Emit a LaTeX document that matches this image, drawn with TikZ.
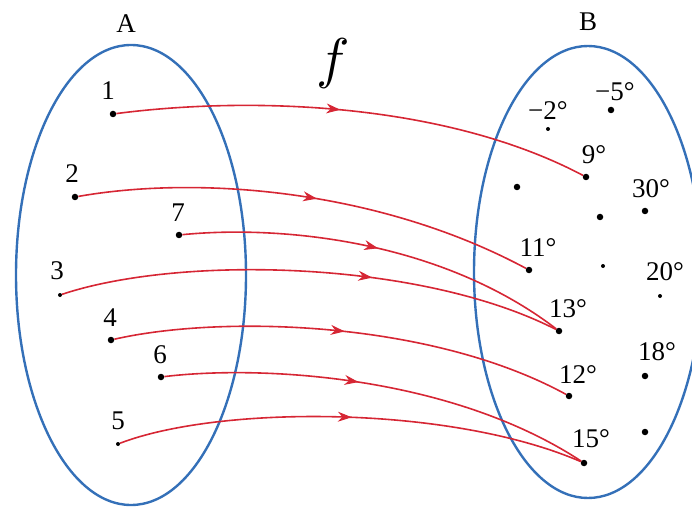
\documentclass[tikz,border=0pt]{standalone}
\usepackage{fontspec}
\setmainfont{Liberation Serif}
\usetikzlibrary{shapes.geometric,decorations.markings,arrows.meta}
\definecolor{setblue}{RGB}{52,112,184}
\definecolor{arrred}{RGB}{214,38,52}
\begin{document}
\begin{tikzpicture}[x=1pt,y=-1pt,
  setshape/.style={ellipse,draw=setblue,line width=2.4pt,inner sep=0pt},
  bigdot/.style={circle,fill=black,inner sep=0pt,minimum size=6.5pt},
  smalldot/.style={circle,fill=black,inner sep=0pt,minimum size=4pt},
  lbl/.style={inner sep=0pt,font=\fontsize{27}{30}\selectfont},
  maparrow/.style={draw=arrred,line width=1.6pt,
    postaction={decorate},
    decoration={markings,mark=at position #1 with {\arrow[arrred,line width=1pt]{Stealth[length=14pt,width=10pt]}}}},
  maparrow/.default=0.5]
\useasboundingbox (0,0) rectangle (692,510);
% sets
\node[setshape,minimum width=230pt,minimum height=460pt] (setA) at (131,275) {};
\node[setshape,minimum width=228pt,minimum height=452pt] (setB) at (588,272) {};
\node[lbl] (labA) at (126,24) {A};
\node[lbl] (labB) at (588,22) {B};
\node[inner sep=0pt,scale=5.6] (fname) at (333,64) {$f$};
% domain points
\node[bigdot] (a1) at (113,114) {};
\node[bigdot] (a2) at (75,197) {};
\node[bigdot] (a7) at (179,235) {};
\node[smalldot] (a3) at (60,295) {};
\node[bigdot] (a4) at (111,340) {};
\node[bigdot] (a6) at (161,377) {};
\node[smalldot] (a5) at (118,444) {};
\node[lbl] (l1) at (108,91) {1};
\node[lbl] (l2) at (72,174) {2};
\node[lbl] (l7) at (178,213) {7};
\node[lbl] (l3) at (57,271) {3};
\node[lbl] (l4) at (110,318) {4};
\node[lbl] (l6) at (160,355) {6};
\node[lbl] (l5) at (118,421) {5};
% codomain points
\node[smalldot] (bm2) at (548,129) {};
\node[bigdot] (bm5) at (611,110) {};
\node[bigdot] (b9) at (586,177) {};
\node[bigdot] (bx1) at (517,187) {};
\node[bigdot] (b30) at (645,211) {};
\node[bigdot] (bx2) at (600,217) {};
\node[bigdot] (b11) at (529,270) {};
\node[smalldot] (bx3) at (603,266) {};
\node[smalldot] (b20) at (660,296) {};
\node[bigdot] (b13) at (559,331) {};
\node[bigdot] (b18) at (645,376) {};
\node[bigdot] (b12) at (569,396) {};
\node[bigdot] (bx4) at (645,432) {};
\node[bigdot] (b15) at (584,463) {};
\node[lbl] (lm2) at (548,111) {−2°};
\node[lbl] (lm5) at (615,92) {−5°};
\node[lbl] (l9) at (594,155) {9°};
\node[lbl] (l30) at (651,189) {30°};
\node[lbl] (l11) at (538,248) {11°};
\node[lbl] (l20) at (665,272) {20°};
\node[lbl] (l13) at (568,309) {13°};
\node[lbl] (l18) at (657,352) {18°};
\node[lbl] (l12) at (578,375) {12°};
\node[lbl] (l15) at (591,439) {15°};
% mapping arrows
\path[maparrow=0.47] (a1) .. controls (260,95) and (450,105) .. (b9);
\path[maparrow=0.52] (a2) .. controls (200,175) and (380,190) .. (b11);
\path[maparrow=0.5] (a7) .. controls (280,225) and (440,240) .. (b13);
\path[maparrow=0.62] (a3) .. controls (180,255) and (420,260) .. (b13);
\path[maparrow=0.5] (a4) .. controls (220,315) and (430,320) .. (b12);
\path[maparrow=0.45] (a6) .. controls (260,365) and (450,375) .. (b15);
\path[maparrow=0.5] (a5) .. controls (220,405) and (450,405) .. (b15);
\end{tikzpicture}
\end{document}
